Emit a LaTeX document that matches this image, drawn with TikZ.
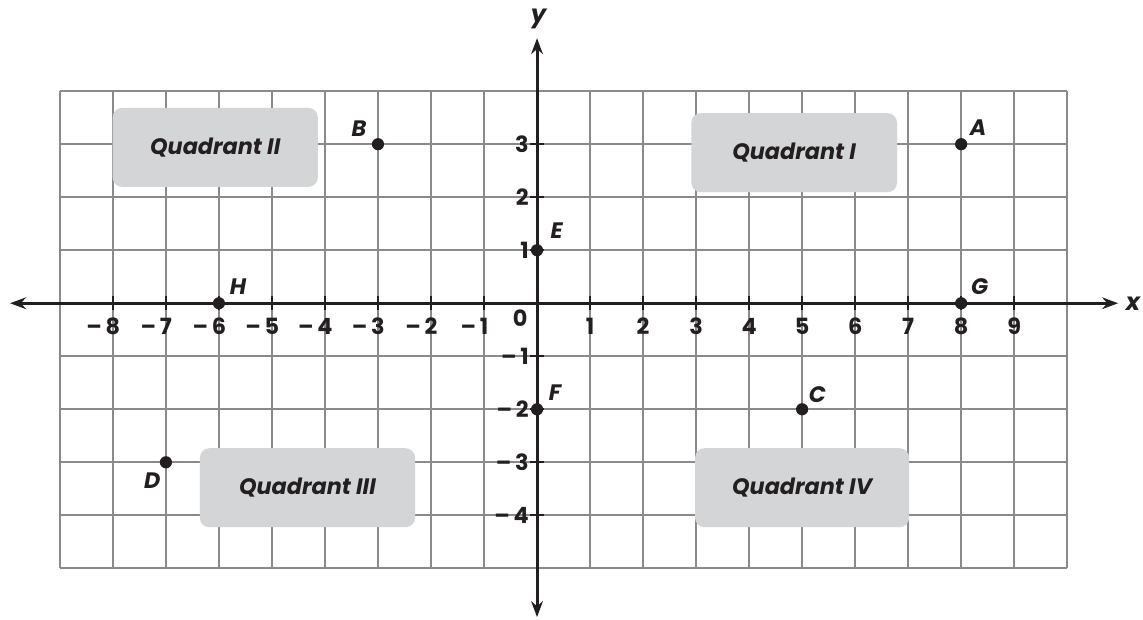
\documentclass[tikz,border=0pt]{standalone}
\usepackage{fontspec}
\setsansfont{Poppins}
\usetikzlibrary{arrows.meta,calc}
\definecolor{gridc}{HTML}{8A8A8A}
\definecolor{axisc}{HTML}{231F20}
\definecolor{boxc}{HTML}{D4D5D7}
\tikzset{
  gridline/.style={draw=gridc, line width=1.1pt},
  axisline/.style={draw=axisc, line width=1.6pt, {Stealth[length=0.3cm,width=0.22cm]}-{Stealth[length=0.3cm,width=0.22cm]}},
  tickmark/.style={draw=axisc, line width=1.2pt},
  num/.style={font=\sffamily\bfseries\fontsize{12}{13}\selectfont, text=axisc, inner sep=0pt},
  ptlabel/.style={font=\sffamily\bfseries\itshape\fontsize{12}{14}\selectfont, text=axisc, inner sep=0pt},
  axname/.style={font=\sffamily\bfseries\itshape\fontsize{13}{14}\selectfont, text=axisc, inner sep=0pt},
  dot/.style={circle, fill=axisc, minimum size=0.23cm, inner sep=0pt},
  quad/.style={fill=boxc, rounded corners=0.18cm, minimum height=1.49cm, inner sep=0pt,
    font=\sffamily\bfseries\itshape\fontsize{12}{14}\selectfont, text=axisc},
}
\begin{document}
\begin{tikzpicture}
\useasboundingbox (-10.13,-5.96) rectangle (11.43,5.72);
\fill[white] (-10.13,-5.96) rectangle (11.43,5.72);
% grid
\draw[gridline] (-9,-5) grid (10,4);
% quadrant boxes
\node[quad, minimum width=3.87cm] (q2) at (-6.07,2.94) {Quadrant II};
\node[quad, minimum width=3.88cm] (q1) at (4.85,2.84) {Quadrant I};
\node[quad, minimum width=4.06cm] (q3) at (-4.33,-3.48) {Quadrant III};
\node[quad, minimum width=4.04cm] (q4) at (5.00,-3.48) {Quadrant IV};
% axes
\coordinate (xl) at (-9.94,0);
\coordinate (xr) at (10.96,0);
\coordinate (yt) at (0,5.0);
\coordinate (yb) at (0,-5.92);
\draw[axisline] (xl) -- (xr);
\draw[axisline] (yb) -- (yt);
\node[axname] (xname) at (11.24,0) {x};
\node[axname] (yname) at (0.03,5.36) {y};
% ticks on x axis
\foreach \i in {-8,...,-1,1,2,...,9}{
  \draw[tickmark] (\i,-0.13) -- (\i,0.13);
}
\foreach \i in {-8,...,-1}{
  \node[num] (xt\i) at (\i,-0.44) {\llap{–\,}\the\numexpr-\i\relax};
}
\foreach \i in {1,...,9}{
  \node[num] (xt\i) at (\i,-0.44) {\i};
}
\node[num] (zero) at (-0.32,-0.29) {0};
% ticks on y axis
\foreach \j in {-4,...,-1,1,2,3}{
  \draw[tickmark] (-0.13,\j) -- (0.13,\j);
}
\foreach \j in {1,2,3}{
  \node[num, anchor=east] (yt\j) at (-0.15,\j) {\j};
}
\foreach \j in {-4,...,-1}{
  \node[num, anchor=east] (yt\j) at (-0.15,\j) {–\,\the\numexpr-\j\relax};
}
% points
\node[dot] (A) at (8,3) {};
\node[dot] (B) at (-3,3) {};
\node[dot] (C) at (5,-2) {};
\node[dot] (D) at (-7,-3) {};
\node[dot] (E) at (0,1) {};
\node[dot] (F) at (0,-2) {};
\node[dot] (G) at (8,0) {};
\node[dot] (H) at (-6,0) {};
\node[ptlabel] (lA) at ($(A)+(0.32,0.31)$) {A};
\node[ptlabel] (lB) at ($(B)+(-0.36,0.29)$) {B};
\node[ptlabel] (lC) at ($(C)+(0.29,0.27)$) {C};
\node[ptlabel] (lD) at ($(D)+(-0.26,-0.34)$) {D};
\node[ptlabel] (lE) at ($(E)+(0.37,0.36)$) {E};
\node[ptlabel] (lF) at ($(F)+(0.34,0.31)$) {F};
\node[ptlabel] (lG) at ($(G)+(0.35,0.32)$) {G};
\node[ptlabel] (lH) at ($(H)+(0.36,0.31)$) {H};
\end{tikzpicture}
\end{document}
